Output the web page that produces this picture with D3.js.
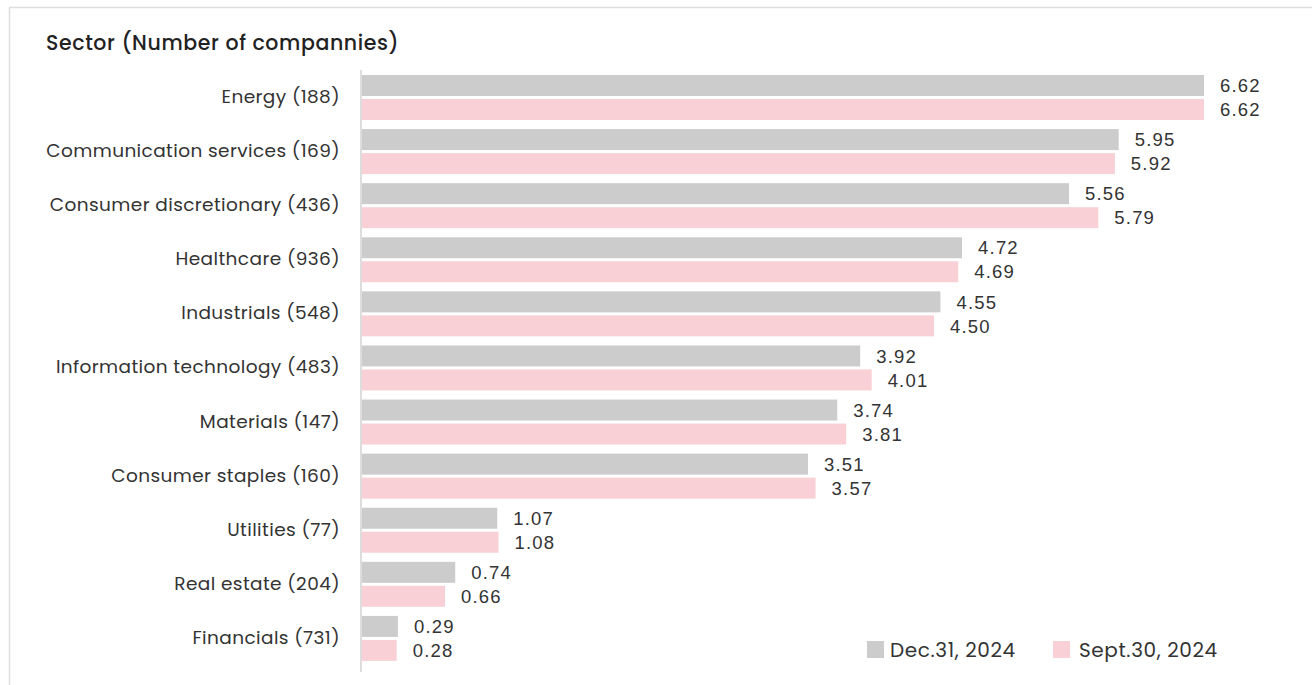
<!DOCTYPE html>
<html>
<head>
<meta charset="utf-8">
<script src="https://cdn.jsdelivr.net/npm/d3@7"></script>
<style>
html,body{margin:0;padding:0;background:#fff;}
svg{display:block;}
</style>
</head>
<body>
<svg id="chart" width="1312" height="685"></svg>
<script>
const categories = ["Energy (188)","Communication services (169)","Consumer discretionary (436)","Healthcare (936)","Industrials (548)","Information technology (483)","Materials (147)","Consumer staples (160)","Utilities (77)","Real estate (204)","Financials (731)"];
const seriesNames = ["Dec.31, 2024","Sept.30, 2024"];
const dec31 = [6.62,5.95,5.56,4.72,4.55,3.92,3.74,3.51,1.07,0.74,0.29];
const sep30 = [6.62,5.92,5.79,4.69,4.50,4.01,3.81,3.57,1.08,0.66,0.28];
const colors = ["#cccccc","#f9d0d6"];
const title = "Sector (Number of compannies)";

const svg = d3.select("#chart");
const labelFont = "Poppins, 'Open Sans', 'Noto Sans', sans-serif";
const numFont = "'Liberation Sans', Arial, sans-serif";

// frame
svg.append("rect").attr("x",9.5).attr("y",7.5).attr("width",1320).attr("height",700)
  .attr("fill","none").attr("stroke","#dddddd").attr("stroke-width",1.5);

svg.append("text").attr("x",46).attr("y",50).text(title)
  .attr("font-family",labelFont).attr("font-size",20.5).attr("font-weight",500)
  .attr("letter-spacing",0.6).attr("fill","#222");

const x0 = 361;
const x = d3.scaleLinear().domain([0,6.62]).range([x0,1204]);
const y = d3.scaleBand().domain(categories).range([70,665]);
const sub = d3.scaleBand().domain(seriesNames).range([5,50]).paddingInner(0.125);

const data = categories.map((c,i)=>({cat:c, vals:[dec31[i],sep30[i]]}));

const g = svg.append("g");
const groups = g.selectAll("g.cat").data(data).join("g").attr("class","cat")
  .attr("transform",d=>`translate(0,${y(d.cat)})`);

groups.selectAll("rect").data(d=>d.vals.map((v,j)=>({v,s:seriesNames[j],j})))
  .join("rect")
  .attr("x",x(0)+1).attr("y",d=>sub(d.s))
  .attr("width",d=>x(d.v)-x(0)-1).attr("height",sub.bandwidth())
  .attr("fill",d=>colors[d.j]);

groups.selectAll("text.val").data(d=>d.vals.map((v,j)=>({v,s:seriesNames[j],j})))
  .join("text").attr("class","val")
  .attr("x",d=>x(d.v)+16).attr("y",d=>sub(d.s)+sub.bandwidth()/2)
  .attr("dy","0.36em")
  .attr("font-family",numFont).attr("font-size",18.5).attr("letter-spacing",1.2).attr("fill","#333")
  .text(d=>d.v.toFixed(2));

// y axis
const yAxis = d3.axisLeft(y).tickSize(0).tickPadding(21);
const ya = svg.append("g").attr("transform",`translate(${x0},0)`).call(yAxis);
ya.select(".domain").attr("stroke","#dddddd").attr("stroke-width",2)
  .attr("d","M0,70V672");
ya.selectAll("text").attr("font-family",labelFont).attr("font-size",18.5)
  .attr("letter-spacing",0.4).attr("fill","#333")
  .attr("dy","0.32em");

// legend
const legend = svg.append("g");
const lx = [867,1053];
seriesNames.forEach((s,i)=>{
  legend.append("rect").attr("x",lx[i]).attr("y",641).attr("width",17).attr("height",17).attr("fill",colors[i]);
  legend.append("text").attr("x",lx[i]+(i===0?23:26)).attr("y",650).attr("dy","0.35em").text(s)
    .attr("font-family",labelFont).attr("font-size",20).attr("letter-spacing",0.6).attr("fill","#333");
});
</script>
</body>
</html>
